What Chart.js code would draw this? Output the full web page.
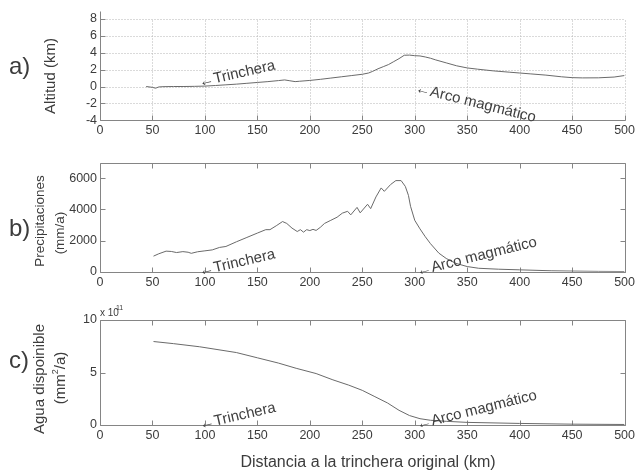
<!DOCTYPE html>
<html><head><meta charset="utf-8">
<script src="https://cdn.jsdelivr.net/npm/chart.js@4/dist/chart.umd.min.js"></script>
<style>
html,body{margin:0;padding:0;background:#fff;}
#wrap{position:relative;width:638px;height:472px;overflow:hidden;background:#fff;}
canvas{position:absolute;left:0;}
</style></head><body>
<div id="wrap">
<canvas id="ca" width="638" height="145" style="top:0px"></canvas>
<canvas id="cb" width="638" height="150" style="top:145px"></canvas>
<canvas id="cc" width="638" height="177" style="top:295px"></canvas>
</div>
<script>
// ---- data ----
const xTicks = [0,50,100,150,200,250,300,350,400,450,500];

const altDist = [44,50,53,56,60,70,80,90,100,110,120,130,140,150,160,170,176,181,186,190,200,210,220,230,240,250,256,260,265,270,275,280,285,290,295,300,305,310,315,320,330,340,350,360,375,390,400,410,425,440,450,460,475,490,500];
const altKm   = [0.0,-0.1,-0.2,-0.05,-0.02,0,0,0.02,0.05,0.12,0.2,0.28,0.38,0.48,0.58,0.7,0.78,0.68,0.58,0.62,0.72,0.85,1.0,1.15,1.3,1.45,1.6,1.8,2.1,2.35,2.6,2.95,3.3,3.7,3.72,3.65,3.62,3.5,3.35,3.15,2.8,2.45,2.2,2.05,1.85,1.7,1.6,1.5,1.35,1.15,1.05,1.02,1.03,1.12,1.3];
const altTicks = [-4,-2,0,2,4,6,8];

const precDist = [51,56,63,68,73,79,84,87,93,100,107,114,120,130,140,150,158,162,168,174,178,183,188,191,194,197,200,203,206,210,214,220,226,231,236,239,245,248,255,258,263,268,271,277,282,287,291,294,296,300,305,310,315,323,330,339,350,361,380,400,430,450,475,500];
const precMm   = [1000,1150,1320,1300,1230,1290,1250,1180,1280,1340,1400,1560,1620,1920,2200,2480,2700,2700,2950,3220,3100,2800,2580,2700,2540,2700,2640,2720,2650,2850,3100,3300,3500,3760,3880,3650,4130,3780,4330,4050,4800,5380,5160,5600,5850,5850,5480,4900,4200,3300,2750,2250,1800,1190,850,540,330,220,160,120,60,40,20,10];
const precTicks = [0,2000,4000,6000];

const aguaDist = [51,70,95,130,150,170,187,206,222,237,250,262,274,285,295,305,315,330,350,400,450,500];
const aguaE11  = [7.95,7.75,7.45,6.9,6.4,5.9,5.4,4.9,4.3,3.8,3.3,2.7,2.1,1.4,0.9,0.6,0.45,0.35,0.25,0.15,0.08,0.05];
const aguaTicks = [0,5,10];

// ---- style ----
const FONT = '"Liberation Sans", Arial, sans-serif';
const TXT = '#3c3c3c';
const AXC = '#858585';
const GRC = '#b5b5b5';
const LINEC = '#6a6a6a';

function crisp(v){ return Math.round(v) + 0.5; }

function decor(cfg){
  return {
    id: 'decor',
    beforeDatasetsDraw(chart){
      const {ctx, chartArea:a, scales:{x,y}} = chart;
      ctx.save();
      ctx.lineWidth = 1;
      const L = crisp(a.left), R = crisp(a.right), T = crisp(a.top), B = crisp(a.bottom);
      if (cfg.grid){
        ctx.strokeStyle = GRC; ctx.setLineDash([1,2]);
        xTicks.forEach(v => { if (v === 0) return; const px = crisp(x.getPixelForValue(v)); ctx.beginPath(); ctx.moveTo(px, B); ctx.lineTo(px, crisp(y.getPixelForValue(cfg.yTicks[cfg.yTicks.length-1]))); ctx.stroke(); });
        cfg.yTicks.forEach((v,i) => { if (i === 0) return; const py = crisp(y.getPixelForValue(v)); ctx.beginPath(); ctx.moveTo(L, py); ctx.lineTo(R, py); ctx.stroke(); });
        ctx.setLineDash([]);
      }
      ctx.strokeStyle = AXC;
      ctx.beginPath(); ctx.moveTo(L, T); ctx.lineTo(L, B); ctx.lineTo(R, B);
      if (cfg.box){ ctx.lineTo(R, T); ctx.lineTo(L, T); }
      ctx.stroke();
      const tl = 5;
      ctx.beginPath();
      xTicks.forEach(v => { const px = crisp(x.getPixelForValue(v)); ctx.moveTo(px, B); ctx.lineTo(px, B - tl); if (cfg.box){ ctx.moveTo(px, T); ctx.lineTo(px, T + tl); } });
      cfg.yTicks.forEach(v => { const py = crisp(y.getPixelForValue(v)); ctx.moveTo(L, py); ctx.lineTo(L + tl, py); if (cfg.box){ ctx.moveTo(R, py); ctx.lineTo(R - tl, py); } });
      ctx.stroke();
      ctx.restore();
    },
    afterDraw(chart){
      const {ctx, scales:{x,y}} = chart;
      ctx.save();
      ctx.fillStyle = TXT;
      ctx.font = '24px ' + FONT; ctx.textAlign = 'left'; ctx.textBaseline = 'middle';
      ctx.fillText(cfg.letter, 9, cfg.letterY);
      cfg.ytitles.forEach(t => {
        ctx.save(); ctx.translate(t.x, t.y); ctx.rotate(-Math.PI/2);
        ctx.font = t.size + 'px ' + FONT; ctx.textAlign = 'center'; ctx.textBaseline = 'middle';
        if (t.sup){
          const w1 = ctx.measureText(t.a).width, w2 = ctx.measureText(t.b).width;
          ctx.font = Math.round(t.size*0.6) + 'px ' + FONT;
          const ws = ctx.measureText(t.sup).width;
          const tot = w1 + ws + w2; let sx = -tot/2;
          ctx.font = t.size + 'px ' + FONT; ctx.textAlign = 'left';
          ctx.fillText(t.a, sx, 0); sx += w1;
          ctx.font = Math.round(t.size*0.6) + 'px ' + FONT; ctx.fillText(t.sup, sx, -t.size*0.35); sx += ws;
          ctx.font = t.size + 'px ' + FONT; ctx.fillText(t.b, sx, 0);
        } else {
          ctx.fillText(t.text, 0, 0);
        }
        ctx.restore();
      });
      cfg.notes.forEach(n => {
        ctx.save();
        ctx.translate(x.getPixelForValue(n.x), y.getPixelForValue(n.y));
        ctx.rotate(n.ang * Math.PI / 180);
        ctx.font = '15px ' + FONT; ctx.textAlign = 'left'; ctx.textBaseline = 'middle';
        ctx.fillStyle = '#404040';
        ctx.fillText(n.text, 0, 0);
        ctx.restore();
      });
      if (cfg.extra) cfg.extra(ctx, chart);
      ctx.restore();
    }
  };
}

function makeChart(id, xs, ys, p){
  const el = document.getElementById(id);
  return new Chart(el, {
    type: 'line',
    data: { datasets: [{ data: xs.map((v,i) => ({x: v, y: ys[i]})), borderColor: LINEC, borderWidth: 1, pointRadius: 0, fill: false, tension: 0 }] },
    options: {
      responsive: false, animation: false,
      layout: { padding: { top: p.top, right: 11, left: 0, bottom: 0 } },
      plugins: { legend: { display: false }, tooltip: { enabled: false } },
      scales: {
        x: { type: 'linear', min: 0, max: 500,
             afterBuildTicks(s){ s.ticks = xTicks.map(v => ({value: v})); },
             afterFit(s){ s.height = p.xh; },
             grid: { display: false, drawTicks: false }, border: { display: false },
             ticks: { font: { family: FONT, size: 12.5 }, color: TXT, padding: 3, maxRotation: 0, autoSkip: false, callback: v => String(v) } },
        y: { type: 'linear', min: p.min, max: p.max,
             afterBuildTicks(s){ s.ticks = p.yTicks.map(v => ({value: v})); },
             afterFit(s){ s.width = 100; },
             grid: { display: false, drawTicks: false }, border: { display: false },
             ticks: { font: { family: FONT, size: 12.5 }, color: TXT, padding: 3, autoSkip: false, callback: v => String(v) } }
      }
    },
    plugins: [decor(p)]
  });
}

makeChart('ca', altDist, altKm, {
  top: 10, xh: 24.7, min: -4, max: 9, yTicks: altTicks, grid: true, box: false,
  letter: 'a)', letterY: 67,
  ytitles: [{ text: 'Altitud (km)', x: 51, y: 76, size: 15 }],
  notes: [{ text: '\u2190Trinchera', x: 94.5, y: 0.45, ang: -13 },
          { text: '\u2190Arco magm\u00e1tico', x: 301, y: -0.2, ang: 14 }]
});

makeChart('cb', precDist, precMm, {
  top: 17.7, xh: 23.3, min: 0, max: 7000, yTicks: precTicks, grid: false, box: true,
  letter: 'b)', letterY: 84,
  ytitles: [{ text: 'Precipitaciones', x: 40, y: 76, size: 13.5 },
            { text: '(mm/a)', x: 60, y: 88, size: 13.5 }],
  notes: [{ text: '\u2190Trinchera', x: 94.5, y: 0, ang: -13 },
          { text: '\u2190Arco magm\u00e1tico', x: 302, y: 0, ang: -14 }]
});

makeChart('cc', aguaDist, aguaE11, {
  top: 25, xh: 47, min: 0, max: 10, yTicks: aguaTicks, grid: false, box: true,
  letter: 'c)', letterY: 66,
  ytitles: [{ text: 'Agua dispoinible', x: 40, y: 84, size: 15 },
            { a: '(mm', sup: '2', b: '/a)', x: 61, y: 83, size: 15 }],
  notes: [{ text: '\u2190Trinchera', x: 95, y: 0, ang: -13 },
          { text: '\u2190Arco magm\u00e1tico', x: 302, y: 0, ang: -14 }],
  extra(ctx, chart){
    ctx.fillStyle = TXT; ctx.textAlign = 'left'; ctx.textBaseline = 'alphabetic';
    ctx.font = '10px ' + FONT; ctx.fillText('x 10', 100, 21);
    ctx.font = '7px ' + FONT; ctx.fillText('11', 116, 15);
    ctx.font = '16px ' + FONT; ctx.textAlign = 'center'; ctx.textBaseline = 'middle';
    ctx.fillText('Distancia a la trinchera original (km)', 368, 168);
  }
});
</script>
</body></html>
